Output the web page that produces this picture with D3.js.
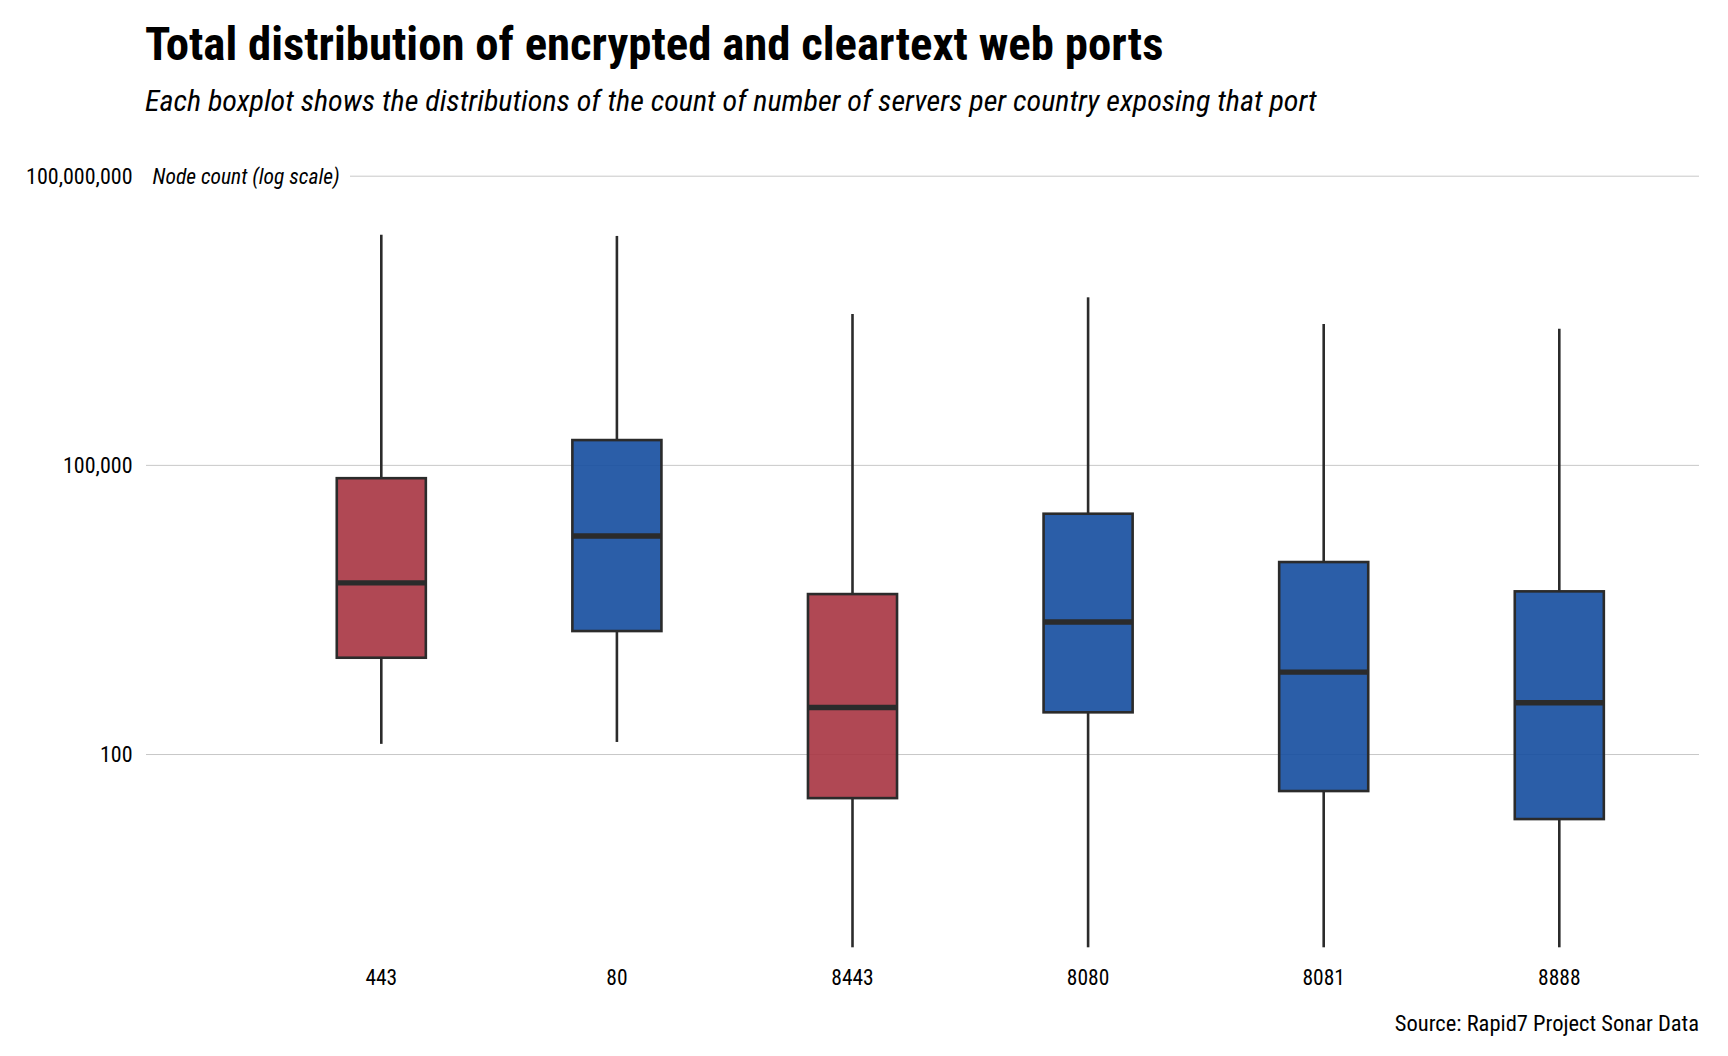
<!DOCTYPE html>
<html>
<head>
<meta charset="utf-8">
<script src="https://cdn.jsdelivr.net/npm/d3@7"></script>
<style>
  html, body { margin: 0; padding: 0; background: #ffffff; }
  svg { display: block; }
  text { font-family: "Liberation Sans Narrow", "Arial Narrow", "Roboto Condensed", sans-serif; }
</style>
</head>
<body>
<svg id="chart" width="1728" height="1056"></svg>
<script>
// ---- Data ----
const ports     = ["443", "80", "8443", "8080", "8081", "8888"];
const portType  = ["encrypted", "cleartext", "encrypted", "cleartext", "cleartext", "cleartext"];
const whiskerLo = [129, 135, 1, 1, 1, 1];
const q1        = [1010, 1910, 35.3, 274, 41.8, 21.4];
const medians   = [6030, 18500, 308, 2370, 716, 345];
const q3        = [73600, 183000, 4620, 31500, 9930, 4930];
const whiskerHi = [24700000, 24000000, 3720000, 5540000, 2930000, 2620000];
const yTicks    = [100, 100000, 100000000];

const titleText    = "Total distribution of encrypted and cleartext web ports";
const subtitleText = "Each boxplot shows the distributions of the count of number of servers per country exposing that port";
const yAxisTitle   = "Node count (log scale)";
const captionText  = "Source: Rapid7 Project Sonar Data";

const colors = { encrypted: "#a73441", cleartext: "#144c9e" };

// ---- Layout ----
const svg = d3.select("#chart");
const gridLeft = 146, gridRight = 1699;

const x = d3.scaleBand().domain(ports).range([263.5, 1677.1])
  .paddingInner(0.622).paddingOuter(0.311);
const y = d3.scaleLog().domain([1, 1e8]).range([947.3, 176.2]);

const rows = ports.map((p, i) => ({
  port: p, type: portType[i], lo: whiskerLo[i], q1: q1[i], med: medians[i], q3: q3[i], hi: whiskerHi[i]
}));

// Title & subtitle
svg.append("text").attr("x", 145).attr("y", 60)
  .attr("font-size", 46.8).attr("font-weight", "bold").attr("fill", "#000")
  .text(titleText);
svg.append("text").attr("x", 145).attr("y", 111)
  .attr("font-size", 30.1).attr("font-style", "italic").attr("fill", "#000")
  .text(subtitleText);

// Grid lines
const grid = svg.append("g");
grid.selectAll("line").data(yTicks).join("line")
  .attr("x1", gridLeft).attr("x2", gridRight)
  .attr("y1", d => y(d)).attr("y2", d => y(d))
  .attr("stroke", "#c8c8c8").attr("stroke-width", 1);

// y-axis title with white background over the top grid line
const yt = svg.append("g");
yt.append("rect").attr("x", gridLeft).attr("y", y(1e8) - 12).attr("width", 204).attr("height", 24).attr("fill", "#fff");
yt.append("text").attr("x", 152.5).attr("y", y(1e8)).attr("dy", "0.34em")
  .attr("font-size", 21.5).attr("font-style", "italic").attr("fill", "#000")
  .text(yAxisTitle);

// Y axis tick labels
const yAxis = d3.axisLeft(y).tickValues(yTicks).tickFormat(d3.format(",")).tickSize(0).tickPadding(0);
const yg = svg.append("g").attr("transform", "translate(132.5,0)").call(yAxis);
yg.select(".domain").remove();
yg.selectAll("text").attr("font-size", 22).attr("fill", "#000")
  .attr("font-family", "'Liberation Sans Narrow', 'Arial Narrow', 'Roboto Condensed', sans-serif");

// X axis labels
const xAxis = d3.axisBottom(x).tickSize(0).tickPadding(0);
const xg = svg.append("g").attr("transform", "translate(0,970)").call(xAxis);
xg.select(".domain").remove();
xg.selectAll("text").attr("font-size", 21.5).attr("fill", "#000")
  .attr("font-family", "'Liberation Sans Narrow', 'Arial Narrow', 'Roboto Condensed', sans-serif");

// Boxplots
const bw = x.bandwidth();
const boxes = svg.append("g").selectAll("g").data(rows).join("g");
boxes.append("line")
  .attr("x1", d => x(d.port) + bw / 2).attr("x2", d => x(d.port) + bw / 2)
  .attr("y1", d => y(d.q3)).attr("y2", d => y(d.hi))
  .attr("stroke", "#2b2b2b").attr("stroke-width", 2.6);
boxes.append("line")
  .attr("x1", d => x(d.port) + bw / 2).attr("x2", d => x(d.port) + bw / 2)
  .attr("y1", d => y(d.q1)).attr("y2", d => y(d.lo))
  .attr("stroke", "#2b2b2b").attr("stroke-width", 2.6);
boxes.append("rect")
  .attr("x", d => x(d.port)).attr("width", bw)
  .attr("y", d => y(d.q3)).attr("height", d => y(d.q1) - y(d.q3))
  .attr("fill", d => colors[d.type]).attr("fill-opacity", 0.9)
  .attr("stroke", "#2b2b2b").attr("stroke-width", 2.6);
boxes.append("line")
  .attr("x1", d => x(d.port)).attr("x2", d => x(d.port) + bw)
  .attr("y1", d => y(d.med)).attr("y2", d => y(d.med))
  .attr("stroke", "#2b2b2b").attr("stroke-width", 5.4);

// Caption
svg.append("text").attr("x", 1699).attr("y", 1030.7).attr("text-anchor", "end")
  .attr("font-size", 22.5).attr("fill", "#000")
  .text(captionText);
</script>
</body>
</html>
